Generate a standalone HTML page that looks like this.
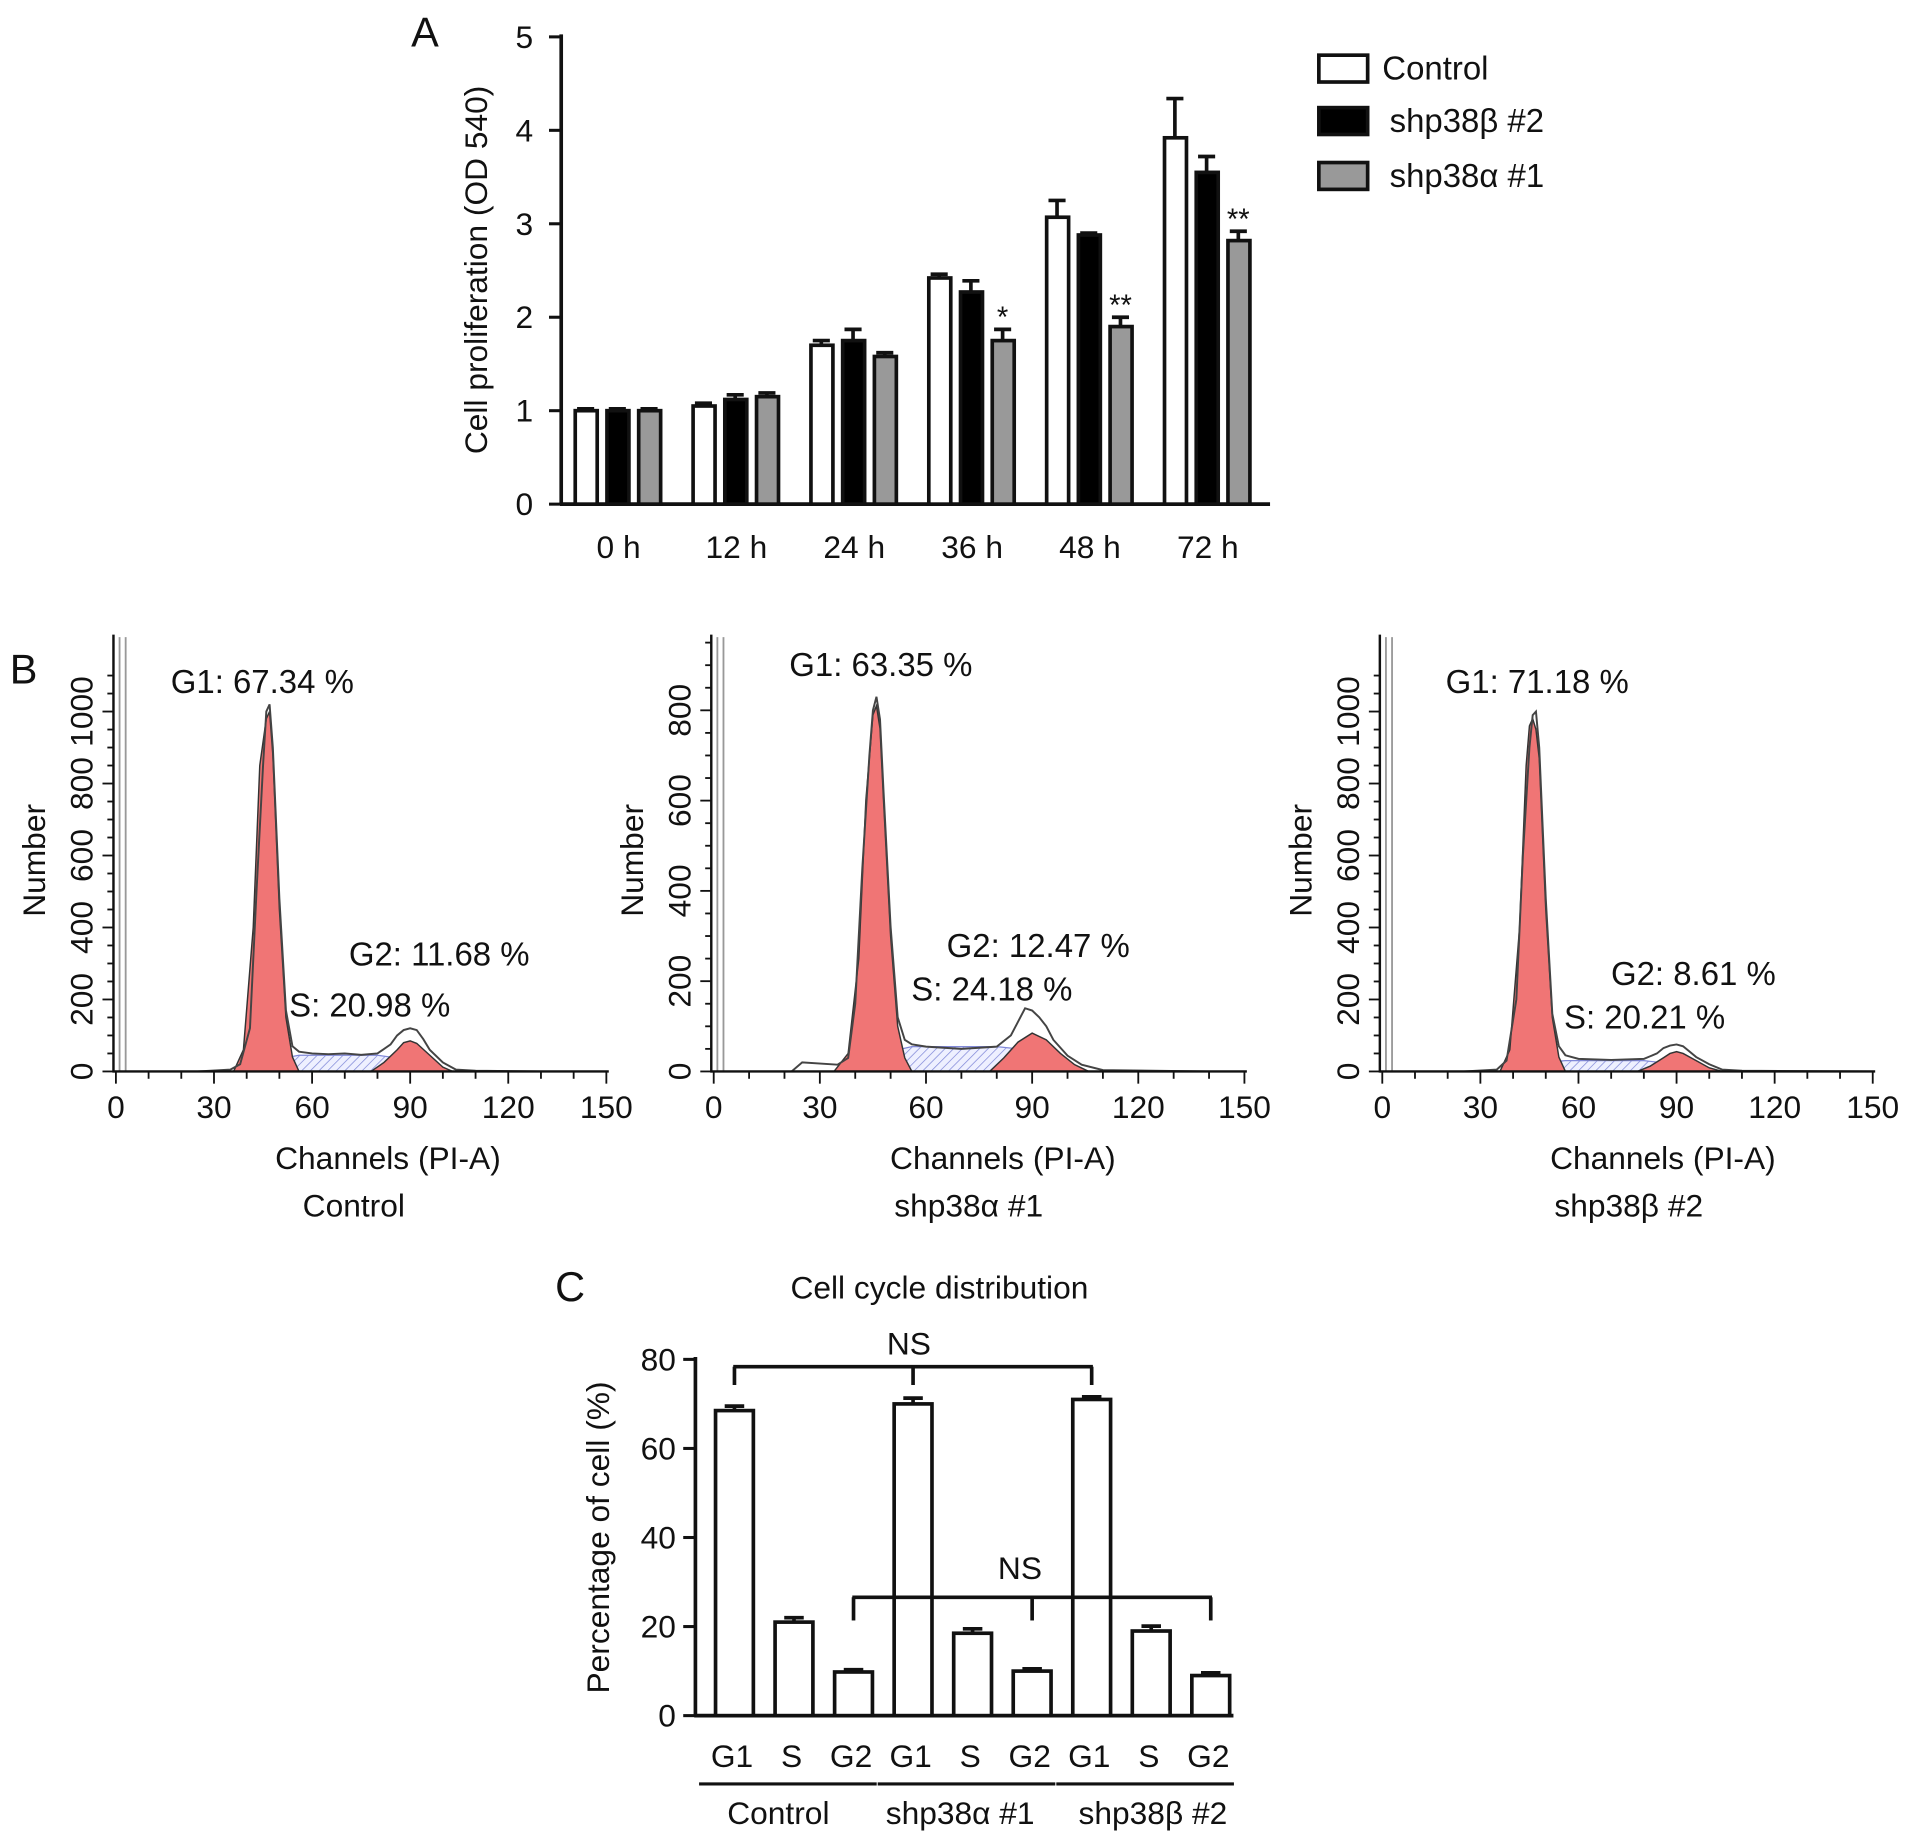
<!DOCTYPE html>
<html><head><meta charset="utf-8"><style>
html,body{margin:0;padding:0;background:#fff;}
svg{display:block;font-family:"Liberation Sans",Arial,sans-serif;}
</style></head><body>
<svg id="fig" width="1913" height="1844" viewBox="0 0 1568 1511" xmlns="http://www.w3.org/2000/svg">
<defs>
<pattern id="hatchS" patternUnits="userSpaceOnUse" width="5" height="5" patternTransform="rotate(45)"><rect width="5" height="5" fill="#eef0ff"/><line x1="0" y1="0" x2="0" y2="5" stroke="#8088d8" stroke-width="1.2"/></pattern>
</defs>
<g id="A"></g>
<g id="B"></g>
<g id="C"></g>
</svg>
<script>
// ---------- Panel A data ----------
const aCategories = ["0 h","12 h","24 h","36 h","48 h","72 h"];
const aSeriesNames = ["Control","shp38β #2","shp38α #1"];
const aControl = [1.0,1.05,1.7,2.42,3.07,3.92];
const aControlErr = [0.02,0.03,0.05,0.04,0.18,0.42];
const aBeta = [1.0,1.12,1.75,2.27,2.88,3.55];
const aBetaErr = [0.02,0.05,0.12,0.12,0.02,0.17];
const aAlpha = [1.0,1.15,1.58,1.75,1.9,2.82];
const aAlphaErr = [0.02,0.04,0.04,0.12,0.1,0.1];
const aStars = ["","","","*","**","**"];
const aYTicks = [0,1,2,3,4,5];

// ---------- Panel B data ----------
const bXTicks = [0,30,60,90,120,150];
const b1YTicks = [0,200,400,600,800,1000];
const b2YTicks = [0,200,400,600,800];
const b3YTicks = [0,200,400,600,800,1000];
const b1OutCh = [25,35,38,41,43,45,46,47,48,50,52,54,56,60,65,70,75,80,84,86,88,90,92,94,96,100,104,110,130,150];
const b1OutCt = [0,5,20,120,500,850,1000,1020,900,480,170,70,55,50,48,50,46,50,75,100,115,120,115,90,60,25,5,2,0,0];
const b1G1Ch = [36,39,42,44,46,47,48,50,52,54,56];
const b1G1Ct = [0,60,400,850,980,1000,880,450,150,40,0];
const b1SCh = [50,53,56,60,70,80,84,88];
const b1SCt = [0,40,45,45,45,45,40,0];
const b1G2Ch = [78,82,86,88,90,92,96,100,103];
const b1G2Ct = [0,25,60,80,85,78,45,12,0];
const b2OutCh = [22,25,35,38,40,42,44,45,46,47,48,50,52,54,56,60,70,80,84,86,88,90,92,94,96,100,104,110,140,150];
const b2OutCt = [0,20,15,30,150,450,700,800,830,780,620,320,120,70,60,55,50,55,80,110,140,135,120,100,70,35,15,3,0,0];
const b2G1Ch = [34,38,41,43,45,46,47,48,50,52,54,56];
const b2G1Ct = [0,40,250,600,790,810,760,600,300,100,30,0];
const b2SCh = [48,52,56,60,70,80,86,90];
const b2SCt = [0,48,55,55,55,55,50,0];
const b2G2Ch = [78,82,86,90,94,98,102,106];
const b2G2Ct = [0,30,65,85,70,40,15,0];
const b3OutCh = [25,35,38,41,43,45,46,47,48,50,52,54,56,60,70,80,84,86,88,90,92,94,96,100,104,110,150];
const b3OutCt = [0,5,30,200,600,900,990,1000,900,480,160,70,45,35,32,35,50,65,72,75,70,55,40,20,5,2,0];
const b3G1Ch = [36,39,42,44,45,46,47,48,50,52,54,56];
const b3G1Ct = [0,60,400,850,960,980,950,870,450,150,40,0];
const b3SCh = [50,53,56,60,70,80,84,88];
const b3SCt = [0,28,30,30,30,30,26,0];
const b3G2Ch = [78,82,86,88,90,92,96,100,104];
const b3G2Ct = [0,15,38,50,55,50,30,10,0];

// ---------- Panel C data ----------
const cCategories = ["G1","S","G2","G1","S","G2","G1","S","G2"];
const cGroups = ["Control","shp38α #1","shp38β #2"];
const cValues = [68.5,21,9.8,70,18.5,10,71,19,9];
const cErr = [1,1,0.5,1.3,1,0.5,0.6,1.1,0.6];
const cYTicks = [0,20,40,60,80];

const NS="http://www.w3.org/2000/svg";
function mk(parent,tag,attrs,text){const e=document.createElementNS(NS,tag);for(const k in attrs)e.setAttribute(k,attrs[k]);if(text!==undefined)e.textContent=text;parent.appendChild(e);return e;}
const FS=26;

// ---------- Panel A ----------
(function(){
const g=document.getElementById('A');
const y=v=>413-v*76.6;
const gx=i=>470+i*96.6;
let t=mk(g,'text',{x:337,y:38,'font-size':34,fill:'#111'},'A');

let ax=mk(g,'line',{x1:460,y1:y(5)-2,x2:460,y2:413,stroke:'#111','stroke-width':3});

let bx=mk(g,'line',{x1:459,y1:413,x2:1041,y2:413,stroke:'#111','stroke-width':3});

aYTicks.forEach(v=>{mk(g,'line',{x1:450,y1:y(v),x2:460,y2:y(v),stroke:'#111','stroke-width':2.5});
 let tl=mk(g,'text',{x:437,y:y(v)+9,'font-size':FS,'text-anchor':'end',fill:'#111'},v);
 });
let yt=mk(g,'text',{x:0,y:0,'font-size':FS,'text-anchor':'middle',fill:'#111',transform:'translate(399,221) rotate(-90)'},'Cell proliferation (OD 540)');

const series=[[aControl,aControlErr,'#fff'],[aBeta,aBetaErr,'#000'],[aAlpha,aAlphaErr,'#999']];
aCategories.forEach((c,i)=>{
 let cl=mk(g,'text',{x:gx(i)+37,y:457,'font-size':FS,'text-anchor':'middle',fill:'#111'},c);
 
 series.forEach((s,j)=>{const x=gx(i)+j*26;const v=s[0][i],e=s[1][i];
  mk(g,'line',{x1:x+10,y1:y(v),x2:x+10,y2:y(v+e),stroke:'#111','stroke-width':3});
  mk(g,'line',{x1:x+3,y1:y(v+e),x2:x+17,y2:y(v+e),stroke:'#111','stroke-width':3});
  let r=mk(g,'rect',{x:x+1.5,y:y(v),width:18,height:413-y(v),fill:s[2],stroke:'#111','stroke-width':3});
  
  if(j==2&&aStars[i]){let st=mk(g,'text',{x:x+10,y:y(v+e)-2,'font-size':24,'text-anchor':'middle',fill:'#111'},aStars[i]);
   }
 });
});
const lf=['#fff','#000','#999'];const ly=[56,99,144];
aSeriesNames.forEach((n,j)=>{
 let lg=mk(g,'g',{});
 mk(lg,'rect',{x:1081,y:ly[j]-11,width:40,height:22,fill:lf[j],stroke:'#111','stroke-width':3});
 mk(lg,'text',{x:j==0?1133:1139,y:ly[j]+9,'font-size':27,fill:'#111'},n);
});
})();

// ---------- Panel B ----------
const panels=[
 {x0:95,px:2.68,py:0.295,yt:b1YTicks,out:[b1OutCh,b1OutCt],g1:[b1G1Ch,b1G1Ct],s:[b1SCh,b1SCt],g2:[b1G2Ch,b1G2Ct],name:'Control',tx:318,
  lab:[['G1: 67.34 %',215,568],['G2: 11.68 %',360,791],['S: 20.98 %',303,833]]},
 {x0:585,px:2.9,py:0.37,yt:b2YTicks,out:[b2OutCh,b2OutCt],g1:[b2G1Ch,b2G1Ct],s:[b2SCh,b2SCt],g2:[b2G2Ch,b2G2Ct],name:'shp38α #1',tx:822,
  lab:[['G1: 63.35 %',722,554],['G2: 12.47 %',851,784],['S: 24.18 %',813,820]]},
 {x0:1133,px:2.68,py:0.295,yt:b3YTicks,out:[b3OutCh,b3OutCt],g1:[b3G1Ch,b3G1Ct],s:[b3SCh,b3SCt],g2:[b3G2Ch,b3G2Ct],name:'shp38β #2',tx:1363,
  lab:[['G1: 71.18 %',1260,568],['G2: 8.61 %',1388,807],['S: 20.21 %',1348,843]]}
];
(function(){
const G=document.getElementById('B');
let bl=mk(G,'text',{x:8,y:560,'font-size':34,fill:'#111'},'B');

panels.forEach((p,k)=>{
 const g=mk(G,'g',{});
 const X=c=>p.x0+c*p.px, Y=v=>878-v*p.py;
 const ayx=p.x0-2;
 const path=(a,close)=>{let d='M'+X(a[0][0])+','+Y(a[1][0]);for(let i=1;i<a[0].length;i++)d+=' L'+X(a[0][i])+','+Y(a[1][i]);return close?d+' Z':d;};
 let s=mk(g,'path',{d:path(p.s,true),fill:'url(#hatchS)',stroke:'#8088d8','stroke-width':1});
 
 let g1=mk(g,'path',{d:path(p.g1,true),fill:'#f07575',stroke:'#333','stroke-width':1.2});
 
 let g2=mk(g,'path',{d:path(p.g2,true),fill:'#f07575',stroke:'#333','stroke-width':1.2});
 
 let o=mk(g,'path',{d:path(p.out,false),fill:'none',stroke:'#444','stroke-width':1.6});
 
 mk(g,'line',{x1:ayx+5,y1:522,x2:ayx+5,y2:878,stroke:'#999','stroke-width':1.5});
 mk(g,'line',{x1:ayx+10,y1:522,x2:ayx+10,y2:878,stroke:'#999','stroke-width':1.5});
 let ya=mk(g,'line',{x1:ayx,y1:520,x2:ayx,y2:879,stroke:'#111','stroke-width':2});
 
 let xa=mk(g,'line',{x1:ayx,y1:878,x2:X(150)+2,y2:878,stroke:'#111','stroke-width':2});
 
 for(let v=0;v<=1100;v+=50){if(Y(v)<522)break;mk(g,'line',{x1:ayx-(v%200==0?9:5),y1:Y(v),x2:ayx,y2:Y(v),stroke:'#111','stroke-width':1.5});}
 p.yt.forEach(v=>{let t=mk(g,'text',{x:0,y:0,'font-size':FS,'text-anchor':'middle',fill:'#111',transform:'translate('+(ayx-17)+','+Y(v)+') rotate(-90)'},v);
  });
 for(let c=0;c<=150;c+=10)mk(g,'line',{x1:X(c),y1:878,x2:X(c),y2:878+(c%30==0?10:6),stroke:'#111','stroke-width':1.5});
 bXTicks.forEach(c=>{let t=mk(g,'text',{x:X(c),y:916,'font-size':FS,'text-anchor':'middle',fill:'#111'},c);
  });
 let yt=mk(g,'text',{x:0,y:0,'font-size':FS,'text-anchor':'middle',fill:'#111',transform:'translate('+(ayx-56)+',705) rotate(-90)'},'Number');
 
 let xt=mk(g,'text',{x:p.tx,y:958,'font-size':FS,'text-anchor':'middle',fill:'#111'},'Channels (PI-A)');
 
 let nm=mk(g,'text',{x:p.tx-28,y:997,'font-size':FS,'text-anchor':'middle',fill:'#111'},p.name);
 
 p.lab.forEach(l=>{let t=mk(g,'text',{x:l[1],y:l[2],'font-size':27,'text-anchor':'middle',fill:'#111'},l[0]);
  });
});
})();

// ---------- Panel C ----------
(function(){
const g=document.getElementById('C');
const y=v=>1406-v*3.65;
const bx=i=>585+i*48.8;
let t=mk(g,'text',{x:455,y:1066,'font-size':34,fill:'#111'},'C');

let ti=mk(g,'text',{x:770,y:1064,'font-size':FS,'text-anchor':'middle',fill:'#111'},'Cell cycle distribution');

let ya=mk(g,'line',{x1:570,y1:y(80)-2,x2:570,y2:1406,stroke:'#111','stroke-width':3});

let xa=mk(g,'line',{x1:569,y1:1406,x2:1011,y2:1406,stroke:'#111','stroke-width':3});

cYTicks.forEach(v=>{mk(g,'line',{x1:560,y1:y(v),x2:570,y2:y(v),stroke:'#111','stroke-width':2.5});
 let tl=mk(g,'text',{x:554,y:y(v)+9,'font-size':FS,'text-anchor':'end',fill:'#111'},v);
 });
let yt=mk(g,'text',{x:0,y:0,'font-size':FS,'text-anchor':'middle',fill:'#111',transform:'translate(499,1260) rotate(-90)'},'Percentage of cell (%)');

cCategories.forEach((c,i)=>{const x=bx(i),v=cValues[i],e=cErr[i];
 mk(g,'line',{x1:x+17,y1:y(v),x2:x+17,y2:y(v+e),stroke:'#111','stroke-width':3});
 mk(g,'line',{x1:x+9,y1:y(v+e),x2:x+25,y2:y(v+e),stroke:'#111','stroke-width':3});
 let r=mk(g,'rect',{x:x+1.5,y:y(v),width:31,height:1406-y(v),fill:'#fff',stroke:'#111','stroke-width':3});
 
 let l=mk(g,'text',{x:x+15,y:1448,'font-size':FS,'text-anchor':'middle',fill:'#111'},c);
 
});
const gc=[638,787,945];
cGroups.forEach((n,j)=>{const x1=bx(j*3)-12,x2=bx(j*3+2)+36;
 mk(g,'line',{x1:x1,y1:1462,x2:x2,y2:1462,stroke:'#111','stroke-width':2.5});
 let l=mk(g,'text',{x:gc[j],y:1495,'font-size':FS,'text-anchor':'middle',fill:'#111'},n);
 });
function bracket(idx,top,tick,lx,ly){const xs=idx.map(i=>bx(i)+17);
 const bg=mk(g,'g',{});
 mk(bg,'line',{x1:xs[0]-1,y1:top,x2:xs[2]+1,y2:top,stroke:'#111','stroke-width':3});
 xs.forEach(x=>mk(bg,'line',{x1:x,y1:top,x2:x,y2:top+tick,stroke:'#111','stroke-width':3}));
 mk(bg,'text',{x:lx,y:ly,'font-size':FS,'text-anchor':'middle',fill:'#111'},'NS');}
bracket([0,3,6],1120,15,745,1110);
bracket([2,5,8],1309,19,836,1294);
})();
</script>
</body></html>
